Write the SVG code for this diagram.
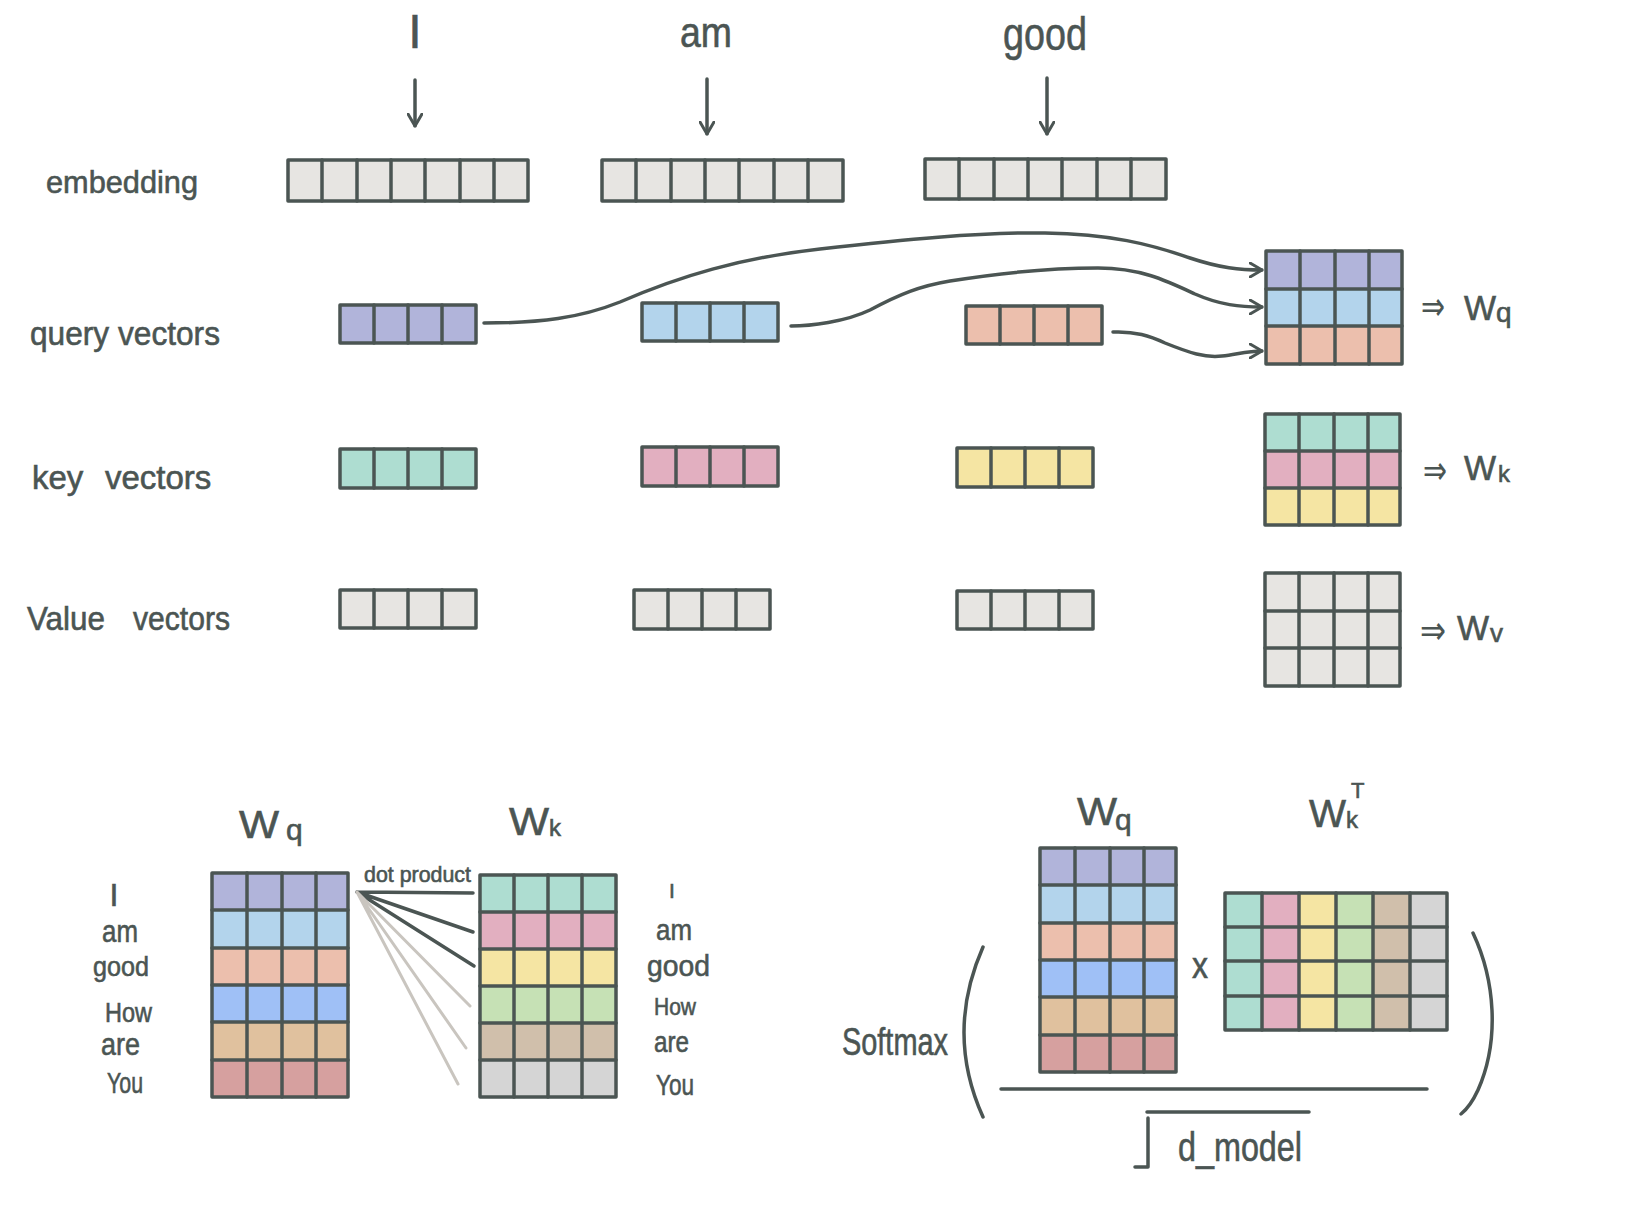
<svg xmlns="http://www.w3.org/2000/svg" width="1642" height="1230" viewBox="0 0 1642 1230">
<style>
.ln{stroke:#4b5553;stroke-width:3.5;fill:none;stroke-linecap:round;stroke-linejoin:round}
.lt{stroke:#c9c5bf;stroke-width:3;fill:none;stroke-linecap:round}
.bx{stroke:#4b5553;stroke-width:3.5;stroke-linejoin:round}
.nf{fill:none}
.t{font-family:"Liberation Sans",Arial,sans-serif;fill:#4b5553;stroke:#4b5553;stroke-width:0.6}
.ar{font-family:"DejaVu Sans",sans-serif;fill:#4b5553}
.gy{fill:#e7e5e2}.pu{fill:#b1b4da}.lb{fill:#b3d4ec}.sa{fill:#ecbfad}
.te{fill:#aeddd1}.pk{fill:#e2afc0}.ye{fill:#f5e5a3}.bl{fill:#9fc0f6}
.tn{fill:#e0c19e}.ro{fill:#d6a09f}.gr{fill:#c6e1b5}.be{fill:#d0bfab}.lg{fill:#d5d5d5}
</style>
<defs>
<marker id="ah" viewBox="0 0 14 16" refX="13" refY="8" markerWidth="14" markerHeight="16" markerUnits="userSpaceOnUse" orient="auto">
<path d="M1,1 L13,8 L1,15" fill="none" stroke="#4b5553" stroke-width="3" stroke-linecap="round" stroke-linejoin="round"/>
</marker>
</defs>
<rect width="1642" height="1230" fill="#ffffff"/>

<!-- words -->
<g id="word-I"><text class="t" x="415" y="48" font-size="48" text-anchor="middle">I</text></g>
<g id="word-am"><text class="t" x="680" y="47" font-size="42" textLength="52" lengthAdjust="spacingAndGlyphs">am</text></g>
<g id="word-good"><text class="t" x="1003" y="50" font-size="46" textLength="84" lengthAdjust="spacingAndGlyphs">good</text></g>

<!-- row labels -->
<g id="label-embedding"><text class="t" x="46" y="193" font-size="32" textLength="152" lengthAdjust="spacingAndGlyphs">embedding</text></g>
<g id="label-query"><text class="t" x="30" y="345" font-size="34" textLength="190" lengthAdjust="spacingAndGlyphs">query vectors</text></g>
<g id="label-key"><text class="t" y="489" font-size="33"><tspan x="32">key</tspan> <tspan x="105">vectors</tspan></text></g>
<g id="label-value"><text class="t" y="630" font-size="33"><tspan x="27" textLength="78" lengthAdjust="spacingAndGlyphs">Value</tspan> <tspan x="133" textLength="97" lengthAdjust="spacingAndGlyphs">vectors</tspan></text></g>

<!-- embeddings -->
<g id="emb-1"><rect class="bx gy" x="288" y="160" width="240" height="41"/><path class="ln" d="M322,160V201M357,160V201M391,160V201M425,160V201M460,160V201M494,160V201"/></g>
<g id="emb-2"><rect class="bx gy" x="602" y="160" width="241" height="41"/><path class="ln" d="M636,160V201M671,160V201M705,160V201M739,160V201M774,160V201M808,160V201"/></g>
<g id="emb-3"><rect class="bx gy" x="925" y="159" width="241" height="40"/><path class="ln" d="M959,159V199M994,159V199M1028,159V199M1062,159V199M1097,159V199M1131,159V199"/></g>

<!-- query vectors -->
<g id="q-1"><rect class="bx pu" x="340" y="305" width="136" height="38"/><path class="ln" d="M374,305V343M408,305V343M442,305V343"/></g>
<g id="q-2"><rect class="bx lb" x="642" y="303" width="136" height="38"/><path class="ln" d="M676,303V341M710,303V341M744,303V341"/></g>
<g id="q-3"><rect class="bx sa" x="966" y="306" width="136" height="38"/><path class="ln" d="M1000,306V344M1034,306V344M1068,306V344"/></g>

<!-- key vectors -->
<g id="k-1"><rect class="bx te" x="340" y="449" width="136" height="39"/><path class="ln" d="M374,449V488M408,449V488M442,449V488"/></g>
<g id="k-2"><rect class="bx pk" x="642" y="447" width="136" height="39"/><path class="ln" d="M676,447V486M710,447V486M744,447V486"/></g>
<g id="k-3"><rect class="bx ye" x="957" y="448" width="136" height="39"/><path class="ln" d="M991,448V487M1025,448V487M1059,448V487"/></g>

<!-- value vectors -->
<g id="v-1"><rect class="bx gy" x="340" y="590" width="136" height="38"/><path class="ln" d="M374,590V628M408,590V628M442,590V628"/></g>
<g id="v-2"><rect class="bx gy" x="634" y="590" width="136" height="39"/><path class="ln" d="M668,590V629M702,590V629M736,590V629"/></g>
<g id="v-3"><rect class="bx gy" x="957" y="591" width="136" height="38"/><path class="ln" d="M991,591V629M1025,591V629M1059,591V629"/></g>

<!-- Wq matrix top -->
<g id="mat-wq">
<rect class="pu" x="1266" y="251" width="136" height="38"/><rect class="lb" x="1266" y="289" width="136" height="37"/><rect class="sa" x="1266" y="326" width="136" height="38"/>
<rect class="bx nf" x="1266" y="251" width="136" height="113"/>
<path class="ln" d="M1266,289H1402M1266,326H1402M1300,251V364M1335,251V364M1369,251V364"/>
<text class="ar" x="1421" y="320" font-size="40" textLength="24" lengthAdjust="spacingAndGlyphs">⇒</text>
<text class="t" x="1464" y="320" font-size="35" textLength="32" lengthAdjust="spacingAndGlyphs">W</text><text class="t" x="1496" y="322" font-size="28">q</text>
</g>
<!-- Wk matrix -->
<g id="mat-wk">
<rect class="te" x="1265" y="414" width="135" height="37"/><rect class="pk" x="1265" y="451" width="135" height="37"/><rect class="ye" x="1265" y="488" width="135" height="37"/>
<rect class="bx nf" x="1265" y="414" width="135" height="111"/>
<path class="ln" d="M1265,451H1400M1265,488H1400M1299,414V525M1334,414V525M1368,414V525"/>
<text class="ar" x="1423" y="484" font-size="40" textLength="24" lengthAdjust="spacingAndGlyphs">⇒</text>
<text class="t" x="1464" y="480" font-size="35" textLength="32" lengthAdjust="spacingAndGlyphs">W</text><text class="t" x="1498" y="482" font-size="24">k</text>
</g>
<!-- Wv matrix -->
<g id="mat-wv">
<rect class="bx gy" x="1265" y="573" width="135" height="113"/>
<path class="ln" d="M1265,611H1400M1265,648H1400M1299,573V686M1334,573V686M1368,573V686"/>
<text class="ar" x="1420" y="644" font-size="40" textLength="26" lengthAdjust="spacingAndGlyphs">⇒</text>
<text class="t" x="1457" y="640" font-size="35" textLength="32" lengthAdjust="spacingAndGlyphs">W</text><text class="t" x="1490" y="642" font-size="26">v</text>
</g>

<!-- bottom left Wq -->
<g id="b-wq">
<text class="t" x="239" y="838" font-size="39" textLength="40" lengthAdjust="spacingAndGlyphs">W</text><text class="t" x="286" y="840" font-size="30">q</text>
<rect class="pu" x="212" y="873" width="136" height="37"/><rect class="lb" x="212" y="910" width="136" height="38"/><rect class="sa" x="212" y="948" width="136" height="37"/>
<rect class="bl" x="212" y="985" width="136" height="37"/><rect class="tn" x="212" y="1022" width="136" height="38"/><rect class="ro" x="212" y="1060" width="136" height="37"/>
<rect class="bx nf" x="212" y="873" width="136" height="224"/>
<path class="ln" d="M212,910H348M212,948H348M212,985H348M212,1022H348M212,1060H348M247,873V1097M282,873V1097M316,873V1097"/>
</g>
<g id="b-wq-labels" class="t">
<text x="114" y="906" font-size="32" text-anchor="middle">I</text>
<text x="102" y="942" font-size="32" textLength="36" lengthAdjust="spacingAndGlyphs">am</text>
<text x="93" y="976" font-size="28" textLength="56" lengthAdjust="spacingAndGlyphs">good</text>
<text x="105" y="1022" font-size="27" textLength="47" lengthAdjust="spacingAndGlyphs">How</text>
<text x="101" y="1055" font-size="32" textLength="39" lengthAdjust="spacingAndGlyphs">are</text>
<text x="107" y="1093" font-size="29" textLength="36" lengthAdjust="spacingAndGlyphs">You</text>
</g>

<!-- bottom left Wk -->
<g id="b-wk">
<text class="t" x="509" y="835" font-size="39" textLength="40" lengthAdjust="spacingAndGlyphs">W</text><text class="t" x="549" y="836" font-size="24">k</text>
<rect class="te" x="480" y="875" width="136" height="37"/><rect class="pk" x="480" y="912" width="136" height="37"/><rect class="ye" x="480" y="949" width="136" height="37"/>
<rect class="gr" x="480" y="986" width="136" height="37"/><rect class="be" x="480" y="1023" width="136" height="37"/><rect class="lg" x="480" y="1060" width="136" height="37"/>
<rect class="bx nf" x="480" y="875" width="136" height="222"/>
<path class="ln" d="M480,912H616M480,949H616M480,986H616M480,1023H616M480,1060H616M514,875V1097M548,875V1097M582,875V1097"/>
</g>
<g id="b-wk-labels" class="t">
<text x="672" y="898" font-size="21" text-anchor="middle">I</text>
<text x="656" y="940" font-size="30" textLength="36" lengthAdjust="spacingAndGlyphs">am</text>
<text x="647" y="976" font-size="30" textLength="63" lengthAdjust="spacingAndGlyphs">good</text>
<text x="654" y="1015" font-size="24" textLength="42" lengthAdjust="spacingAndGlyphs">How</text>
<text x="654" y="1052" font-size="30" textLength="35" lengthAdjust="spacingAndGlyphs">are</text>
<text x="656" y="1095" font-size="30" textLength="38" lengthAdjust="spacingAndGlyphs">You</text>
</g>
<g id="dot-product-label"><text class="t" x="364" y="882" font-size="22" textLength="107" lengthAdjust="spacingAndGlyphs">dot product</text></g>

<!-- softmax formula -->
<g id="f-wq">
<text class="t" x="1077" y="825" font-size="39" textLength="40" lengthAdjust="spacingAndGlyphs">W</text><text class="t" x="1115" y="830" font-size="30">q</text>
<rect class="pu" x="1040" y="848" width="136" height="37"/><rect class="lb" x="1040" y="885" width="136" height="38"/><rect class="sa" x="1040" y="923" width="136" height="37"/>
<rect class="bl" x="1040" y="960" width="136" height="37"/><rect class="tn" x="1040" y="997" width="136" height="38"/><rect class="ro" x="1040" y="1035" width="136" height="37"/>
<rect class="bx nf" x="1040" y="848" width="136" height="224"/>
<path class="ln" d="M1040,885H1176M1040,923H1176M1040,960H1176M1040,997H1176M1040,1035H1176M1075,848V1072M1110,848V1072M1144,848V1072"/>
</g>
<g id="f-times"><text class="t" x="1192" y="978" font-size="36" textLength="16" lengthAdjust="spacingAndGlyphs">x</text></g>
<g id="f-wkt">
<text class="t" x="1309" y="827" font-size="39" textLength="37" lengthAdjust="spacingAndGlyphs">W</text><text class="t" x="1346" y="828" font-size="24">k</text><text class="t" x="1351" y="798" font-size="22">T</text>
<rect class="te" x="1225" y="893" width="37" height="137"/><rect class="pk" x="1262" y="893" width="37" height="137"/><rect class="ye" x="1299" y="893" width="37" height="137"/>
<rect class="gr" x="1336" y="893" width="37" height="137"/><rect class="be" x="1373" y="893" width="37" height="137"/><rect class="lg" x="1410" y="893" width="37" height="137"/>
<rect class="bx nf" x="1225" y="893" width="222" height="137"/>
<path class="ln" d="M1225,927H1447M1225,961H1447M1225,996H1447M1262,893V1030M1299,893V1030M1336,893V1030M1373,893V1030M1410,893V1030"/>
</g>
<g id="f-softmax">
<text class="t" x="842" y="1055" font-size="38" textLength="106" lengthAdjust="spacingAndGlyphs">Softmax</text>
<path class="ln" d="M983,947 Q945,1033 983,1117"/>
<path class="ln" d="M1473,933 C1495,980 1500,1040 1478,1090 C1472,1103 1466,1110 1461,1114"/>
<path class="ln" d="M1001,1089H1427"/>
<path class="ln" d="M1147,1112H1309M1148,1118V1167H1135"/>
<text class="t" x="1178" y="1161" font-size="40" textLength="124" lengthAdjust="spacingAndGlyphs">d_model</text>
</g>

<!-- connectors -->
<g id="connectors">
<path class="ln" d="M415,80V126" marker-end="url(#ah)"/>
<path class="ln" d="M707,79V134" marker-end="url(#ah)"/>
<path class="ln" d="M1047,78V134" marker-end="url(#ah)"/>
<path class="ln" d="M484,323 C540,323 580,318 620,302 C680,276 740,258 820,249 C900,240 980,232 1045,233 C1110,234 1150,244 1190,258 C1220,268 1240,270 1262,270" marker-end="url(#ah)"/>
<path class="ln" d="M791,326 C810,326 845,322 870,310 C900,294 920,286 950,281 C1000,273 1050,268 1098,268 C1140,268 1165,280 1195,294 C1220,305 1240,307 1262,307" marker-end="url(#ah)"/>
<path class="ln" d="M1113,332 C1135,331 1150,336 1165,343 C1190,353 1205,358 1222,356 C1238,354 1248,351 1262,351" marker-end="url(#ah)"/>
<path class="ln" d="M357,892L473,893M357,892L473,932M357,892L474,966"/>
<path class="lt" d="M357,892L470,1006M357,892L466,1048M357,892L458,1084"/>
</g>
</svg>
